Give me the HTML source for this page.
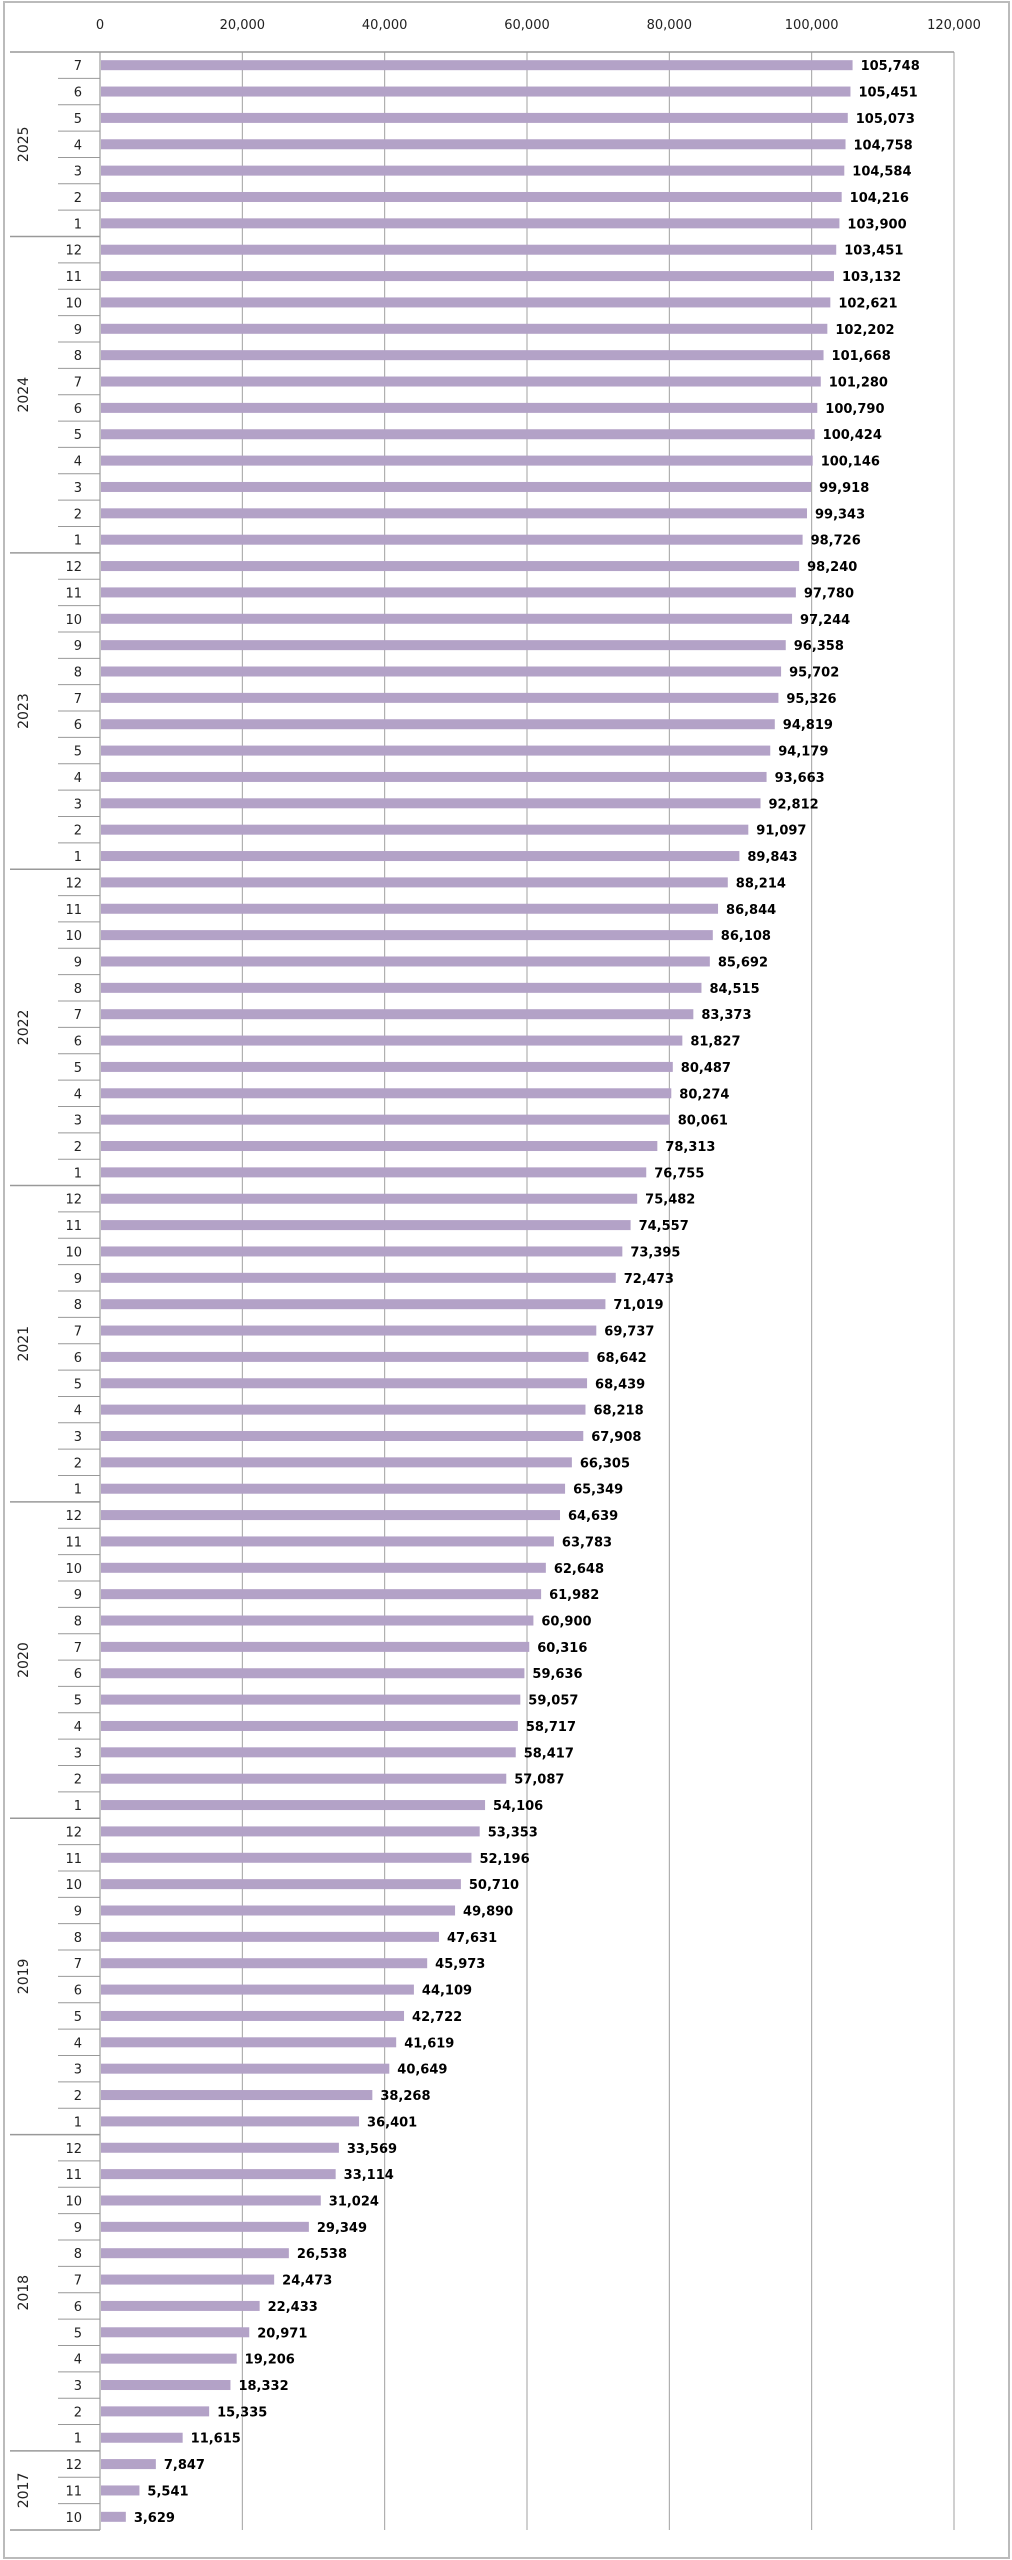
<!DOCTYPE html>
<html><head><meta charset="utf-8"><style>
html,body{margin:0;padding:0;background:#fff}
svg{display:block}
text{font-family:"DejaVu Sans","Liberation Sans",sans-serif}
</style></head><body>
<svg id="chart" width="1012" height="2560" xmlns="http://www.w3.org/2000/svg">
<rect x="4" y="2" width="1005" height="2556" fill="#fff" stroke="#bbb" stroke-width="2"/>
</svg>
<script>
const years = ["2025","2024","2023","2022","2021","2020","2019","2018","2017"];
const yearMonths = [
 [7,6,5,4,3,2,1],
 [12,11,10,9,8,7,6,5,4,3,2,1],
 [12,11,10,9,8,7,6,5,4,3,2,1],
 [12,11,10,9,8,7,6,5,4,3,2,1],
 [12,11,10,9,8,7,6,5,4,3,2,1],
 [12,11,10,9,8,7,6,5,4,3,2,1],
 [12,11,10,9,8,7,6,5,4,3,2,1],
 [12,11,10,9,8,7,6,5,4,3,2,1],
 [12,11,10]
];
const values = [
 105748,105451,105073,104758,104584,104216,103900,
 103451,103132,102621,102202,101668,101280,100790,100424,100146,99918,99343,98726,
 98240,97780,97244,96358,95702,95326,94819,94179,93663,92812,91097,89843,
 88214,86844,86108,85692,84515,83373,81827,80487,80274,80061,78313,76755,
 75482,74557,73395,72473,71019,69737,68642,68439,68218,67908,66305,65349,
 64639,63783,62648,61982,60900,60316,59636,59057,58717,58417,57087,54106,
 53353,52196,50710,49890,47631,45973,44109,42722,41619,40649,38268,36401,
 33569,33114,31024,29349,26538,24473,22433,20971,19206,18332,15335,11615,
 7847,5541,3629
];
const ticks = [0,20000,40000,60000,80000,100000,120000];

const svg = document.getElementById('chart');
const NS = 'http://www.w3.org/2000/svg';
const X0 = 100, X1 = 954, XMAX = 120000, Y0 = 52, Y1 = 2530;
const nRows = values.length;
const rowH = (Y1 - Y0) / nRows;
const xs = v => X0 + (v / XMAX) * (X1 - X0);
const ys = i => Y0 + i * rowH;
const fmt = v => v.toLocaleString('en-US');
function mk(tag, attrs){ const e = document.createElementNS(NS, tag); for (const k in attrs) e.setAttribute(k, attrs[k]); svg.appendChild(e); return e; }

ticks.forEach(t => {
  const g = mk('line', {x1: xs(t), x2: xs(t), y1: Y0, y2: Y1, stroke: t === 0 ? '#888' : '#a0a0a0', 'stroke-width': 1});
  
  
  const tl = mk('text', {x: xs(t), y: 29, 'text-anchor': 'middle', 'font-size': 13, fill: '#222'});
  tl.textContent = fmt(t);
  
  
});
const topLine = mk('line', {x1: 10, x2: X1, y1: Y0, y2: Y0, stroke: '#999', 'stroke-width': 1.5});


const botLine = mk('line', {x1: 10, x2: X0, y1: Y1, y2: Y1, stroke: '#999', 'stroke-width': 1.5});



let idx = 0;
years.forEach((yr, yi) => {
  const start = idx;
  yearMonths[yi].forEach((m, mi) => {
    const v = values[idx];
    const yTop = ys(idx), cy = yTop + rowH / 2;
    if (mi > 0) {
      const tk = mk('line', {x1: 58, x2: X0, y1: yTop, y2: yTop, stroke: '#999', 'stroke-width': 1});
      
      
    }
    const ml = mk('text', {x: 82, y: cy + 5, 'text-anchor': 'end', 'font-size': 13, fill: '#222'});
    ml.textContent = m;
    
    
    const b = mk('rect', {x: X0 + 1, y: cy - 5, width: xs(v) - X0 - 1, height: 10, fill: '#b3a2c7'});
    
    
    const vl = mk('text', {x: xs(v) + 8, y: cy + 5, 'font-size': 13, 'font-weight': 'bold', fill: '#000'});
    vl.textContent = fmt(v);
    
    
    idx++;
  });
  if (yi > 0) {
    const sep = mk('line', {x1: 10, x2: X0, y1: ys(start), y2: ys(start), stroke: '#999', 'stroke-width': 1.5});
    
    
  }
  const midY = (ys(start) + ys(idx)) / 2;
  const yl = mk('text', {x: 0, y: 0, 'text-anchor': 'middle', 'font-size': 14, fill: '#222', transform: 'translate(28,' + midY + ') rotate(-90)'});
  yl.textContent = yr;
  
  
});
</script>
</body></html>
